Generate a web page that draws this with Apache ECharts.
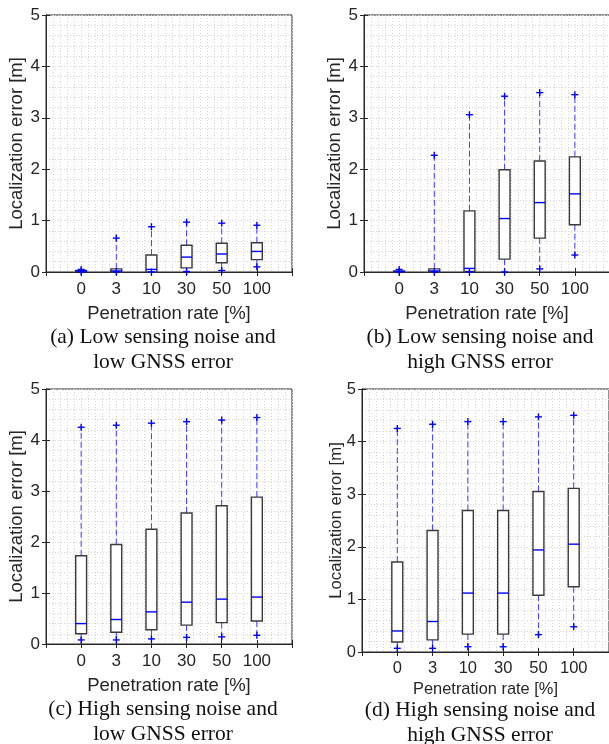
<!DOCTYPE html>
<html>
<head>
<meta charset="utf-8">
<title>Localization error boxplots</title>
<script src="https://cdn.jsdelivr.net/npm/echarts@6/dist/echarts.min.js"></script>
<style>
  html, body { margin: 0; padding: 0; background: #fff; }
  #chart { width: 609px; height: 744px; }
</style>
</head>
<body>
<div id="chart"></div>
<script>
// penetration rate categories
var categories = ['0', '3', '10', '30', '50', '100'];
var yTicks = [0, 1, 2, 3, 4, 5];

// each row: [lower +, q1, median, q3, upper +]
var lowNoiseLowGnss = [
    [0.00, 0.01, 0.02, 0.03, 0.05],
    [0.00, 0.00, 0.02, 0.06, 0.66],
    [0.00, 0.00, 0.05, 0.33, 0.88],
    [0.01, 0.08, 0.29, 0.52, 0.97],
    [0.03, 0.18, 0.35, 0.56, 0.95],
    [0.10, 0.24, 0.40, 0.57, 0.91]
];
var lowNoiseHighGnss = [
    [0.00, 0.00, 0.01, 0.02, 0.05],
    [0.00, 0.00, 0.02, 0.06, 2.27],
    [0.00, 0.01, 0.07, 1.19, 3.06],
    [0.00, 0.25, 1.04, 1.99, 3.42],
    [0.06, 0.66, 1.35, 2.16, 3.49],
    [0.33, 0.92, 1.52, 2.24, 3.45]
];
var highNoiseLowGnss = [
    [0.08, 0.20, 0.40, 1.73, 4.25],
    [0.08, 0.23, 0.48, 1.95, 4.29],
    [0.10, 0.28, 0.63, 2.25, 4.33],
    [0.13, 0.37, 0.82, 2.57, 4.36],
    [0.14, 0.42, 0.88, 2.71, 4.39],
    [0.17, 0.45, 0.92, 2.88, 4.44]
];
var highNoiseHighGnss = [
    [0.07, 0.19, 0.40, 1.71, 4.25],
    [0.07, 0.23, 0.58, 2.31, 4.33],
    [0.10, 0.34, 1.12, 2.69, 4.38],
    [0.10, 0.34, 1.12, 2.69, 4.38],
    [0.33, 1.08, 1.94, 3.05, 4.47],
    [0.48, 1.24, 2.05, 3.11, 4.50]
];

var xName = 'Penetration rate [%]';
var yName = 'Localization error [m]';

var panels = [
    { data: lowNoiseLowGnss, grid: { left: 46, top: 15, width: 246, height: 257 },
      tick: 17, xname: 18.5, yname: 18.5, xgap: 32, ygap: 20, lm: 9,
      caption: ['(a) Low sensing noise and', 'low GNSS error'], cx: 163, cy: 337 },
    { data: lowNoiseHighGnss, grid: { left: 364, top: 15, width: 246, height: 257 },
      tick: 17, xname: 18.5, yname: 18.5, xgap: 32, ygap: 20, lm: 9,
      caption: ['(b) Low sensing noise and', 'high GNSS error'], cx: 480, cy: 337 },
    { data: highNoiseLowGnss, grid: { left: 46, top: 389, width: 246, height: 255 },
      tick: 17, xname: 18.5, yname: 18.5, xgap: 32, ygap: 20, lm: 9,
      caption: ['(c) High sensing noise and', 'low GNSS error'], cx: 163, cy: 709 },
    { data: highNoiseHighGnss, grid: { left: 362, top: 389, width: 247, height: 263 },
      tick: 16.5, xname: 16.4, yname: 16.8, xgap: 29, ygap: 17, lm: 8,
      caption: ['(d) High sensing noise and', 'high GNSS error'], cx: 480, cy: 710 }
];

var axisColor = '#262626';
var dotted = { color: '#d6d6d6', width: 1, type: [1, 2] };

function catLabel(v) {
    var i = Math.round(v) - 1;
    return (i >= 0 && i < categories.length) ? categories[i] : '';
}

function renderBox(params, api) {
    var x = api.value(0);
    var lo = api.coord([x, api.value(1)]);
    var q1 = api.coord([x, api.value(2)]);
    var md = api.coord([x, api.value(3)]);
    var q3 = api.coord([x, api.value(4)]);
    var hi = api.coord([x, api.value(5)]);
    var half = (api.coord([x + 0.155, 0])[0] - api.coord([x - 0.155, 0])[0]) / 2;
    var cxp = lo[0];
    var blue = '#0000ff';
    var wStyle = { stroke: '#3d3dff', lineWidth: 1, lineDash: [6, 3] };
    var pStyle = { stroke: blue, lineWidth: 1.4 };
    var p = 3.5;
    return {
        type: 'group',
        children: [
            { type: 'line', shape: { x1: cxp, y1: q3[1], x2: cxp, y2: hi[1] }, style: wStyle },
            { type: 'line', shape: { x1: cxp, y1: q1[1], x2: cxp, y2: lo[1] }, style: wStyle },
            { type: 'rect', shape: { x: cxp - half, y: q3[1], width: half * 2, height: Math.max(q1[1] - q3[1], 1) },
              style: { fill: '#fff', stroke: '#3a3a3a', lineWidth: 1.4 } },
            { type: 'line', shape: { x1: cxp - half, y1: md[1], x2: cxp + half, y2: md[1] },
              style: { stroke: blue, lineWidth: 1.4 } },
            { type: 'line', shape: { x1: cxp - p, y1: hi[1], x2: cxp + p, y2: hi[1] }, style: pStyle },
            { type: 'line', shape: { x1: cxp, y1: hi[1] - p, x2: cxp, y2: hi[1] + p }, style: pStyle },
            { type: 'line', shape: { x1: cxp - p, y1: lo[1], x2: cxp + p, y2: lo[1] }, style: pStyle },
            { type: 'line', shape: { x1: cxp, y1: lo[1] - p, x2: cxp, y2: lo[1] + p }, style: pStyle }
        ]
    };
}

var option = {
    backgroundColor: '#fff',
    animation: false,
    textStyle: { fontFamily: 'Liberation Sans, Arial, sans-serif' },
    grid: [], xAxis: [], yAxis: [], series: [], graphic: []
};

panels.forEach(function (pn, k) {
    var g = pn.grid;
    option.grid.push({ left: g.left, top: g.top, width: g.width, height: g.height,
        outerBoundsMode: 'none', containLabel: false,
        show: true, backgroundColor: 'transparent', borderColor: axisColor, borderWidth: 1 });

    var base = {
        gridIndex: k, type: 'value', min: 0, max: 7, interval: 1,
        axisLine: { show: true, lineStyle: { color: axisColor, width: 1 } },
        axisTick: { show: true, inside: true, length: 4, lineStyle: { color: axisColor } },
        minorTick: { show: false, splitNumber: 5 }
    };
    option.xAxis.push(Object.assign({}, base, {
        position: 'bottom',
        name: xName, nameLocation: 'middle', nameGap: pn.xgap, nameMoveOverlap: false,
        nameTextStyle: { fontSize: pn.xname, color: axisColor },
        axisLabel: { fontSize: pn.tick, color: axisColor, margin: pn.lm, formatter: catLabel },
        splitLine: { show: true, lineStyle: dotted },
        minorSplitLine: { show: true, lineStyle: dotted }
    }));
    option.xAxis.push(Object.assign({}, base, {
        position: 'top', axisLabel: { show: false }, splitLine: { show: false }
    }));

    var ybase = {
        gridIndex: k, type: 'value', min: yTicks[0], max: yTicks[yTicks.length - 1], interval: 1,
        axisLine: { show: true, lineStyle: { color: axisColor, width: 1 } },
        axisTick: { show: true, inside: true, length: 4, lineStyle: { color: axisColor } },
        minorTick: { show: false, splitNumber: 5 }
    };
    option.yAxis.push(Object.assign({}, ybase, {
        position: 'left',
        name: yName, nameLocation: 'middle', nameGap: pn.ygap, nameMoveOverlap: false,
        nameTextStyle: { fontSize: pn.yname, color: axisColor },
        axisLabel: { fontSize: pn.tick, color: axisColor, margin: 6 },
        splitLine: { show: true, lineStyle: dotted },
        minorSplitLine: { show: true, lineStyle: dotted }
    }));
    option.yAxis.push(Object.assign({}, ybase, {
        position: 'right', axisLabel: { show: false }, splitLine: { show: false }
    }));

    option.series.push({
        type: 'custom',
        xAxisIndex: 2 * k, yAxisIndex: 2 * k,
        clip: false,
        encode: { x: 0, y: [1, 2, 3, 4, 5] },
        renderItem: renderBox,
        data: pn.data.map(function (r, i) { return [i + 1].concat(r); })
    });

    pn.caption.forEach(function (line, j) {
        option.graphic.push({
            type: 'text', x: pn.cx, y: pn.cy + j * 25,
            style: { text: line, font: '21.5px "Liberation Serif", "Times New Roman", serif',
                     fill: '#111', textAlign: 'center', textVerticalAlign: 'middle' }
        });
    });
});

var chart = echarts.init(document.getElementById('chart'));
chart.setOption(option);
</script>
</body>
</html>
